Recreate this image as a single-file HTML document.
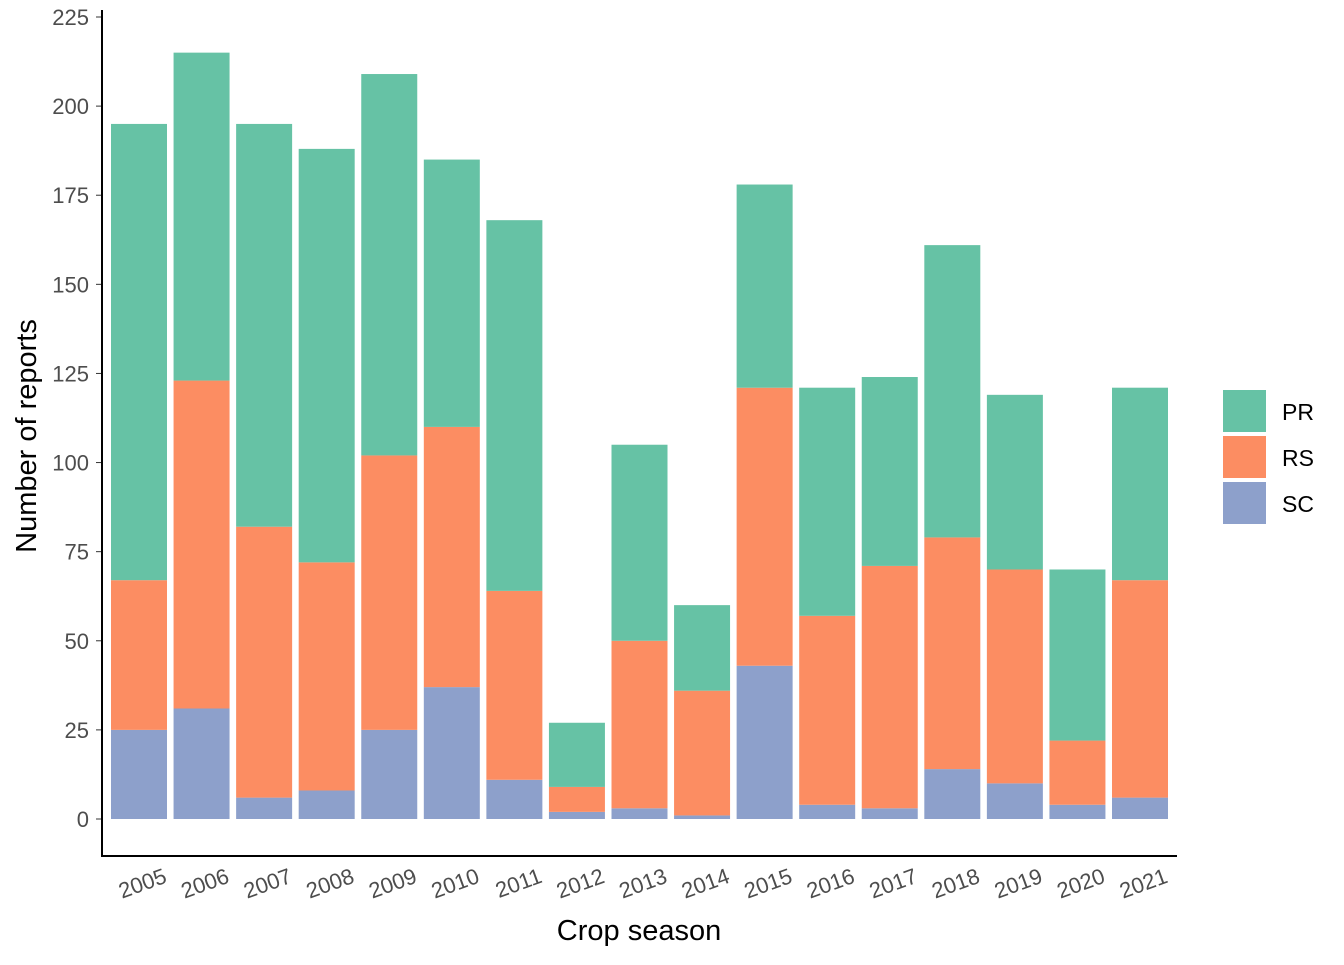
<!DOCTYPE html>
<html><head><meta charset="utf-8"><style>
body{margin:0;background:#fff;}
svg{font-family:"Liberation Sans",Arial,sans-serif;}
</style></head><body>
<svg id="c" width="1344" height="960"></svg>
<script>
const years=["2005","2006","2007","2008","2009","2010","2011","2012","2013","2014","2015","2016","2017","2018","2019","2020","2021"];
const scVals=[25,31,6,8,25,37,11,2,3,1,43,4,3,14,10,4,6];
const rsVals=[42,92,76,64,77,73,53,7,47,35,78,53,68,65,60,18,61];
const prVals=[128,92,113,116,107,75,104,18,55,24,57,64,53,82,49,48,54];
const yTicks=[0,25,50,75,100,125,150,175,200,225];
const seriesNames=["PR","RS","SC"];
const colors={PR:"#66C2A5",RS:"#FC8D62",SC:"#8DA0CB"};
const NS="http://www.w3.org/2000/svg";
const svg=document.getElementById("c");
const y=v=>819-v*(819-17)/225;
const x=i=>139+i*(1140-139)/16;
const bw=56;
function mk(t,a,p){const e=document.createElementNS(NS,t);for(const k in a)e.setAttribute(k,a[k]);(p||svg).appendChild(e);return e;}
const segs=[["SC",scVals],["RS",rsVals],["PR",prVals]];
years.forEach((yr,i)=>{
  let base=0;
  segs.forEach(([n,arr])=>{
    const v=arr[i];
    const r=mk("rect",{x:x(i)-bw/2,y:y(base+v),width:bw,height:y(base)-y(base+v),fill:colors[n]});
    
    
    base+=v;
  });
  const t=mk("text",{x:x(i)+29,y:882,"text-anchor":"end","font-size":22,fill:"#4d4d4d",transform:`rotate(-20 ${x(i)+29} 882)`});
  t.textContent=yr;
  
  
});
yTicks.forEach(v=>{
  mk("line",{x1:96,x2:102,y1:y(v),y2:y(v),stroke:"#333","stroke-width":1});
  const t=mk("text",{x:89,y:y(v)+8,"text-anchor":"end","font-size":22,fill:"#4d4d4d"});
  t.textContent=v;
  
  
});
const ya=mk("line",{x1:102,x2:102,y1:10,y2:857,stroke:"#000","stroke-width":2});


const xa=mk("line",{x1:101,x2:1177,y1:856,y2:856,stroke:"#000","stroke-width":2});


const xt=mk("text",{x:639,y:940,"text-anchor":"middle","font-size":29,fill:"#000"});
xt.textContent="Crop season";


const yt=mk("text",{x:36,y:436,"text-anchor":"middle","font-size":29,fill:"#000",transform:"rotate(-90 36 436)"});
yt.textContent="Number of reports";


seriesNames.forEach((n,k)=>{
  const g=mk("g",{});
  
  
  mk("rect",{x:1223,y:390+k*46,width:43,height:42,fill:colors[n]},g);
  const t=mk("text",{x:1282,y:420+k*46,"font-size":23,fill:"#000"},g);
  t.textContent=n;
});
</script>
</body></html>
